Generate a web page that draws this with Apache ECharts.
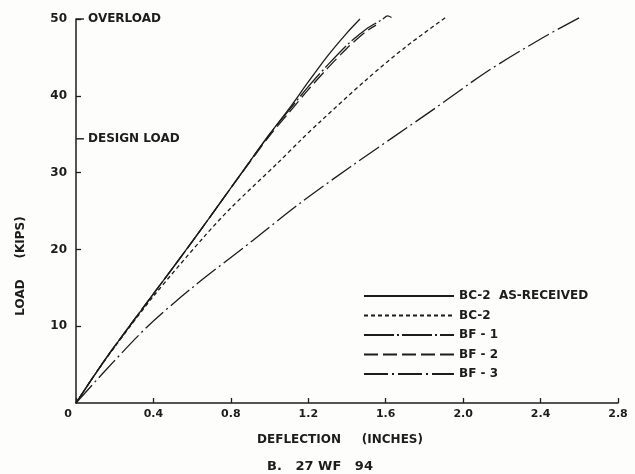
<!DOCTYPE html>
<html>
<head>
<meta charset="utf-8">
<title>27 WF 94 load-deflection</title>
<script src="https://cdn.jsdelivr.net/npm/echarts@6/dist/echarts.min.js"></script>
<style>
  html, body { margin: 0; padding: 0; background: #fdfdfb; }
  #chart { width: 635px; height: 474px; }
</style>
</head>
<body>
<div id="chart"></div>
<script>
// deflection (inches), load (kips) pairs
var bc2Received = [[0, 0], [0.1, 3.8], [0.2, 7.4], [0.4, 14.2], [0.6, 21], [0.8, 28], [1.0, 35],
    [1.1, 38.3], [1.2, 41.8], [1.3, 45.2], [1.4, 48.2], [1.467, 50]];
var bc2 = [[0, 0], [0.1, 3.8], [0.2, 7.3], [0.4, 13.9], [0.66, 21.6], [0.8, 25.4], [1.04, 31.2],
    [1.16, 34.2], [1.26, 36.6], [1.5, 42.1], [1.7, 46.3], [1.92, 50.4]];
var bf1 = [[0, 0], [0.1, 3.8], [0.2, 7.4], [0.4, 14.2], [0.6, 21], [0.8, 28], [1.0, 35],
    [1.1, 38.1], [1.2, 41.2], [1.3, 44.0], [1.4, 46.6], [1.5, 48.7], [1.58, 49.9], [1.61, 50.4], [1.63, 50.2]];
var bf2 = [[0, 0], [0.1, 3.8], [0.2, 7.4], [0.4, 14.2], [0.6, 21], [0.8, 28], [1.0, 34.8],
    [1.1, 37.8], [1.2, 40.8], [1.3, 43.6], [1.4, 46.2], [1.5, 48.4], [1.55, 49.2]];
var bf3 = [[0, 0], [0.14, 3.9], [0.367, 9.9], [0.6, 15.0], [0.915, 21.2], [1.157, 26], [1.415, 30.7],
    [1.845, 38.2], [2.12, 43.1], [2.4, 47.4], [2.61, 50.3]];

var seriesNames = ['BC-2  AS-RECEIVED', 'BC-2', 'BF - 1', 'BF - 2', 'BF - 3'];
var loadMarks = [[0, 50], [0, 34.4]];
var loadMarkNames = ['OVERLOAD', 'DESIGN LOAD'];

var ink = '#1c1c1c';
var font = 'DejaVu Sans';

function curve(name, data, dash) {
    return {
        name: name,
        type: 'line',
        data: data,
        smooth: 0.3,
        symbol: 'none',
        clip: false,
        itemStyle: {color: ink},
        lineStyle: {color: ink, width: 1.3, type: dash}
    };
}

var myChart = echarts.init(document.getElementById('chart'));
myChart.setOption({
    animation: false,
    backgroundColor: '#fdfdfb',
    textStyle: {fontFamily: font, color: ink},
    grid: {left: 76, right: 17, top: 19, bottom: 71},
    title: {
        text: 'B.   27 WF   94',
        left: 262,
        top: 455,
        textStyle: {fontFamily: font, fontSize: 13, fontWeight: 'bold', color: ink}
    },
    legend: {
        orient: 'vertical',
        left: 358,
        top: 285,
        itemWidth: 90,
        itemHeight: 12,
        itemGap: 7.5,
        data: seriesNames,
        itemStyle: {opacity: 0},
        textStyle: {fontFamily: font, fontSize: 12, fontWeight: 'bold', color: ink}
    },
    graphic: [{
        type: 'text',
        x: 21,
        y: 266,
        rotation: Math.PI / 2,
        style: {
            text: 'LOAD     (KIPS)',
            font: 'bold 12px "DejaVu Sans"',
            fill: ink,
            align: 'center',
            verticalAlign: 'middle'
        }
    }],
    xAxis: {
        type: 'value',
        min: 0,
        max: 2.8,
        interval: 0.4,
        name: 'DEFLECTION     (INCHES)',
        nameLocation: 'middle',
        nameGap: 31,
        nameTextStyle: {fontFamily: font, fontSize: 12, fontWeight: 'bold', color: ink, padding: [0, 14, 0, 0]},
        splitLine: {show: false},
        axisLine: {lineStyle: {color: ink, width: 1.5}},
        axisTick: {inside: true, length: 5, lineStyle: {color: ink, width: 1.3}},
        axisLabel: {
            fontSize: 11,
            fontWeight: 'bold',
            color: ink,
            margin: 6,
            formatter: function (value) {
                if (value === 0) {
                    return '{z|0}';
                }
                return value.toFixed(1);
            },
            rich: {z: {fontSize: 11, fontWeight: 'bold', color: ink, padding: [0, 16, 0, 0]}}
        }
    },
    yAxis: {
        type: 'value',
        min: 0,
        max: 50,
        interval: 10,
        splitLine: {show: false},
        axisLine: {show: true, lineStyle: {color: ink, width: 1.5}},
        axisTick: {show: true, inside: true, length: 5, lineStyle: {color: ink, width: 1.3}},
        axisLabel: {
            fontSize: 12,
            fontWeight: 'bold',
            color: ink,
            margin: 9,
            showMinLabel: false
        }
    },
    series: [
        curve(seriesNames[0], bc2Received, 'solid'),
        curve(seriesNames[1], bc2, [4, 3]),
        curve(seriesNames[2], bf1, [30, 3, 2, 3]),
        curve(seriesNames[3], bf2, [14, 5]),
        curve(seriesNames[4], bf3, [24, 4, 2, 4]),
        {
            type: 'scatter',
            data: loadMarks,
            symbol: 'rect',
            symbolSize: [8, 1.4],
            symbolOffset: [4, 0],
            itemStyle: {color: ink, opacity: 1},
            clip: false,
            silent: true,
            label: {
                show: true,
                position: 'right',
                distance: 4,
                fontFamily: font,
                fontSize: 12,
                fontWeight: 'bold',
                color: ink,
                formatter: function (p) {
                    return loadMarkNames[p.dataIndex];
                }
            }
        }
    ]
});
</script>
</body>
</html>
